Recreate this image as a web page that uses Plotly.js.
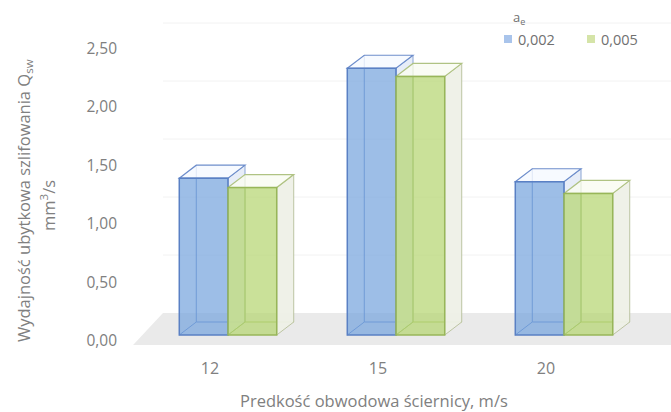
<!DOCTYPE html>
<html>
<head>
<meta charset="utf-8">
<script src="https://cdn.plot.ly/plotly-3.0.1.min.js"></script>
<style>
  html, body { margin: 0; padding: 0; background: #ffffff; }
  #chart { width: 671px; height: 412px; }
</style>
</head>
<body>
<div id="chart"></div>
<script>
// Wheel peripheral speed categories (m/s)
const categories = ['12', '15', '20'];
// Series: depth of cut a_e
const seriesNames = ['0,002', '0,005'];
const ae002 = [1.34, 2.28, 1.31];
const ae005 = [1.26, 2.21, 1.21];
const yTicks = [0, 0.5, 1, 1.5, 2, 2.5];

// ---- layout geometry (pixels) ----
const W = 671, H = 412;
const M = { l: 130, r: 0, t: 20, b: 62 };
const plotW = W - M.l - M.r, plotH = H - M.t - M.b;
const pxPerCat = 168;          // distance between category groups
const pxPerUnit = 117;         // vertical pixels per 1.0 of value
const firstCatPx = 228 - M.l;  // first group centre from plot left
const zeroPx = 15;             // value 0 above plot bottom
const xRange = [-firstCatPx / pxPerCat, (plotW - firstCatPx) / pxPerCat];
const yRange = [-zeroPx / pxPerUnit, (plotH - zeroPx) / pxPerUnit];

// helpers: pixel position -> paper fraction
const px2paperX = px => (px - M.l) / plotW;
const px2paperY = py => ((H - M.b) - py) / plotH;

// 3-D depth of each column, converted to data units
const DX = 17 / pxPerCat, DY = 13 / pxPerUnit;
const bargap = 0.42;
const bw = (1 - bargap) / 2;

const xs = categories.map((c, i) => i);

const palette = [
  { face: 'rgba(119,165,222,0.72)', edge: '#5a80c4', top: 'rgba(246,249,255,0.85)', side: 'rgba(228,235,247,0.9)', legend: '#a9c4eb', topEdge: '#6d8dcb', sideEdge: '#8aa4d4' },
  { face: 'rgba(182,214,114,0.72)', edge: '#98b659', top: 'rgba(249,251,242,0.85)', side: 'rgba(238,240,231,0.95)', legend: '#d5e4a8', topEdge: '#b0c383', sideEdge: '#bcc4a2' }
];

function poly(pts) {
  return 'M' + pts.map(p => p[0] + ',' + p[1]).join(' L') + ' Z';
}

const shapes = [];

// floor of the 3-D plot area
shapes.push({
  type: 'path', xref: 'x', yref: 'y', layer: 'below',
  path: poly([[-0.565, -10 / pxPerUnit], [3, -10 / pxPerUnit], [3, 22 / pxPerUnit], [-0.387, 22 / pxPerUnit]]),
  fillcolor: '#eaeaea', line: { width: 0 }
});

// faint back-wall gridlines
yTicks.slice(1).forEach(v => {
  const yy = v * (116 / pxPerUnit) + 22 / pxPerUnit;
  shapes.push({
    type: 'line', xref: 'x', yref: 'y', layer: 'below',
    x0: -0.387, x1: 3, y0: yy, y1: yy,
    line: { color: '#f2f2f2', width: 1 }
  });
});

// back edges, side and top faces of every column
const series = [ae002, ae005];
xs.forEach((xc, i) => {
  series.forEach((vals, s) => {
    const v = vals[i];
    const xl = xc - bw + s * bw, xr = xl + bw;
    const col = palette[s];
    // hidden edges seen through the translucent front
    shapes.push({
      type: 'path', xref: 'x', yref: 'y', layer: 'below',
      path: `M${xl},0 L${xl + DX},${DY} L${xl + DX},${v + DY} M${xl + DX},${DY} L${xr + DX},${DY}`,
      line: { color: col.edge, width: 1 }
    });
    // right side face
    shapes.push({
      type: 'path', xref: 'x', yref: 'y', layer: 'below',
      path: poly([[xr, 0], [xr + DX, DY], [xr + DX, v + DY], [xr, v]]),
      fillcolor: col.side, line: { color: col.sideEdge, width: 1 }
    });
    // top face
    shapes.push({
      type: 'path', xref: 'x', yref: 'y', layer: 'below',
      path: poly([[xl, v], [xl + DX, v + DY], [xr + DX, v + DY], [xr, v]]),
      fillcolor: col.top, line: { color: col.topEdge, width: 1.2 }
    });
  });
});

const traces = series.map((vals, s) => ({
  type: 'bar',
  name: seriesNames[s],
  x: xs,
  y: vals,
  marker: { color: palette[s].face, line: { color: palette[s].edge, width: 1.5 } },
  showlegend: false,
  hoverinfo: 'skip'
}));

const font = { family: 'Open Sans, DejaVu Sans, sans-serif', color: '#808080' };
const f = (size, extra) => Object.assign({}, font, { size: size }, extra || {});

// legend: small swatches with labels, titled a_e
const legendSwatchPx = [508, 591];
const legendTextPx = [516, 599];
const legendY = 39;
const annotations = [
  { text: 'a<sub>e</sub>', xref: 'paper', yref: 'paper', x: px2paperX(511), y: px2paperY(18),
    xanchor: 'left', yanchor: 'middle', showarrow: false, font: f(13, { color: '#707070' }) }
];
seriesNames.forEach((nm, s) => {
  shapes.push({
    type: 'rect', xref: 'paper', yref: 'paper', layer: 'above',
    x0: px2paperX(legendSwatchPx[s] - 4), x1: px2paperX(legendSwatchPx[s] + 4),
    y0: px2paperY(legendY + 4), y1: px2paperY(legendY - 4),
    fillcolor: palette[s].legend, line: { width: 0 }
  });
  annotations.push({
    text: nm, xref: 'paper', yref: 'paper', x: px2paperX(legendTextPx[s]), y: px2paperY(legendY),
    xanchor: 'left', yanchor: 'middle', showarrow: false, font: f(14.5, { color: '#707070' })
  });
});

annotations.push(
  { text: 'Predkość obwodowa ściernicy, m/s', xref: 'paper', yref: 'paper',
    x: px2paperX(374), y: px2paperY(400), xanchor: 'center', yanchor: 'middle',
    showarrow: false, font: f(16.5) },
  { text: 'Wydajność ubytkowa szlifowania Q<sub>sw</sub>', xref: 'paper', yref: 'paper', textangle: -90,
    x: px2paperX(24), y: px2paperY(201), xanchor: 'center', yanchor: 'middle',
    showarrow: false, font: f(16.5) },
  { text: 'mm<sup>3</sup>/s', xref: 'paper', yref: 'paper', textangle: -90,
    x: px2paperX(48), y: px2paperY(206), xanchor: 'center', yanchor: 'middle',
    showarrow: false, font: f(16.5) }
);

const layout = {
  width: W, height: H,
  margin: M,
  paper_bgcolor: '#ffffff', plot_bgcolor: 'rgba(0,0,0,0)',
  separators: ', ',
  barmode: 'group', bargap: bargap, bargroupgap: 0,
  showlegend: false,
  xaxis: {
    range: xRange, tickvals: xs, ticktext: categories,
    showgrid: false, zeroline: false, showline: false, ticks: '',
    ticklabelshift: -18, ticklabelstandoff: 7,
    tickfont: f(16),
    fixedrange: true
  },
  yaxis: {
    range: yRange, tickvals: yTicks, tickformat: '.2f',
    showgrid: false, zeroline: false, showline: false, ticks: '',
    ticklabelshift: 6, ticklabelstandoff: 12,
    tickfont: f(15.5),
    fixedrange: true
  },
  shapes: shapes,
  annotations: annotations
};

Plotly.newPlot('chart', traces, layout, { staticPlot: true, displayModeBar: false });
</script>
</body>
</html>
